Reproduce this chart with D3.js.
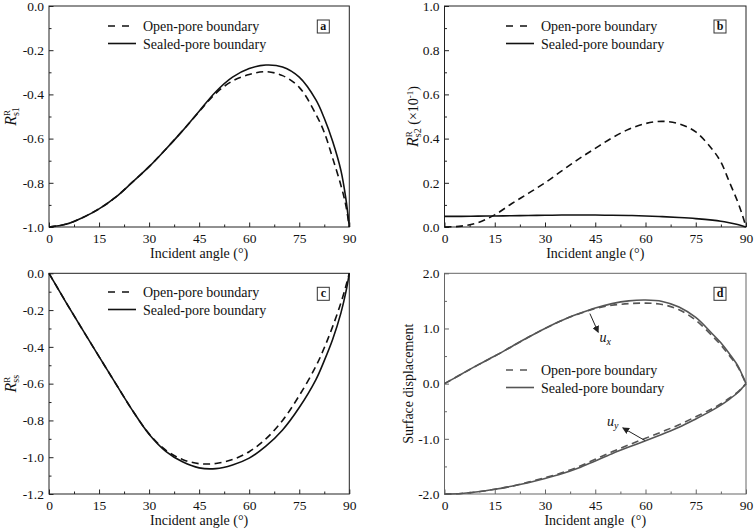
<!DOCTYPE html>
<html>
<head>
<meta charset="utf-8">
<script src="https://cdn.jsdelivr.net/npm/d3@7"></script>
<style>
body { margin: 0; background: #fff; }
svg text { font-family: "Liberation Serif", "Times New Roman", serif; }
</style>
</head>
<body>
<div id="chart"></div>
<script>
// incident angles (deg) shared by every curve
var angles = [0, 5, 10, 15, 20, 25, 30, 35, 40, 45, 50, 55, 60, 65, 70, 75, 80, 82.5, 85, 87.5, 89, 90];

// (a) R_s1
var rs1Open   = [-1.0, -0.988, -0.958, -0.918, -0.865, -0.797, -0.727, -0.648, -0.565, -0.478, -0.395, -0.339, -0.31, -0.297, -0.315, -0.368, -0.49, -0.572, -0.688, -0.812, -0.905, -1.0];
var rs1Sealed = [-1.0, -0.988, -0.958, -0.918, -0.865, -0.797, -0.727, -0.648, -0.565, -0.476, -0.388, -0.322, -0.283, -0.267, -0.276, -0.322, -0.425, -0.508, -0.612, -0.745, -0.875, -1.0];
// (b) R_s2 (x10^-1)
var rs2Open   = [0, 0.004, 0.02, 0.055, 0.105, 0.152, 0.2, 0.254, 0.307, 0.356, 0.403, 0.442, 0.468, 0.478, 0.467, 0.43, 0.35, 0.294, 0.205, 0.115, 0.05, 0];
var rs2Sealed = [0.048, 0.048, 0.049, 0.05, 0.051, 0.052, 0.053, 0.054, 0.054, 0.054, 0.053, 0.052, 0.05, 0.047, 0.043, 0.038, 0.031, 0.026, 0.019, 0.011, 0.005, 0];
// (c) R_ss
var rssOpen   = [0, -0.155, -0.305, -0.453, -0.6, -0.745, -0.873, -0.962, -1.012, -1.035, -1.034, -1.013, -0.97, -0.9, -0.8, -0.665, -0.505, -0.405, -0.29, -0.16, -0.068, 0];
var rssSealed = [0, -0.155, -0.305, -0.453, -0.6, -0.745, -0.875, -0.968, -1.025, -1.058, -1.062, -1.042, -1.005, -0.94, -0.852, -0.73, -0.578, -0.475, -0.36, -0.215, -0.1, 0];
// (d) surface displacement
var uxOpen    = [0, 0.17, 0.34, 0.5, 0.67, 0.84, 1.0, 1.145, 1.262, 1.36, 1.42, 1.45, 1.46, 1.435, 1.34, 1.15, 0.86, 0.7, 0.51, 0.31, 0.13, 0];
var uxSealed  = [0, 0.17, 0.34, 0.5, 0.67, 0.84, 1.0, 1.145, 1.265, 1.37, 1.45, 1.5, 1.515, 1.49, 1.39, 1.2, 0.9, 0.74, 0.545, 0.33, 0.14, 0];
var uyOpen    = [-2.0, -1.99, -1.96, -1.915, -1.86, -1.785, -1.705, -1.615, -1.505, -1.37, -1.235, -1.11, -0.99, -0.87, -0.745, -0.6, -0.45, -0.365, -0.265, -0.155, -0.065, 0];
var uySealed  = [-2.0, -1.99, -1.96, -1.915, -1.86, -1.795, -1.72, -1.635, -1.53, -1.4, -1.27, -1.15, -1.035, -0.915, -0.79, -0.64, -0.48, -0.39, -0.285, -0.165, -0.07, 0];

var xTicks = [0, 15, 30, 45, 60, 75, 90];
var xMinor = [7.5, 22.5, 37.5, 52.5, 67.5, 82.5];
var yTicksA = [-1.0, -0.8, -0.6, -0.4, -0.2, 0.0];
var yTicksB = [0.0, 0.2, 0.4, 0.6, 0.8, 1.0];
var yTicksC = [-1.2, -1.0, -0.8, -0.6, -0.4, -0.2, 0.0];
var yTicksD = [-2.0, -1.0, 0.0, 1.0, 2.0];
var legendNames = ["Open-pore boundary", "Sealed-pore boundary"];
var xTitle = "Incident angle (\u00B0)";

var svg = d3.select("#chart").append("svg")
  .attr("width", 754)
  .attr("height", 530);

var defs = svg.append("defs");
defs.append("marker")
  .attr("id", "arrow")
  .attr("viewBox", "0 0 10 10")
  .attr("refX", 9).attr("refY", 5)
  .attr("markerWidth", 7).attr("markerHeight", 7)
  .attr("markerUnits", "userSpaceOnUse")
  .attr("orient", "auto")
  .append("path")
  .attr("d", "M0,0 L10,5 L0,10 z")
  .attr("fill", "#222");

var fmt = function(v) { return d3.format(".1f")(v).replace("\u2212", "-"); };

var panels = [
  { key: "a", x: 49, y: 6, w: 300.3, h: 221, dom: [-1, 0], ticks: yTicksA, minor: 0.1,
    open: rs1Open, sealed: rs1Sealed, lx: 108, ly: 26, col: "#111", frame: "#222",
    ylab: { x: 16, parts: "s1" } },
  { key: "b", x: 444.5, y: 6, w: 301.5, h: 221, dom: [0, 1], ticks: yTicksB, minor: 0.1,
    open: rs2Open, sealed: rs2Sealed, lx: 506, ly: 26, col: "#111", frame: "#222",
    ylab: { x: 418, parts: "s2", extra: true } },
  { key: "c", x: 49, y: 273.3, w: 300.3, h: 220.7, dom: [-1.2, 0], ticks: yTicksC, minor: 0.1,
    open: rssOpen, sealed: rssSealed, lx: 108, ly: 292, col: "#111", frame: "#222",
    ylab: { x: 16, parts: "ss" } },
  { key: "d", x: 444.5, y: 273.3, w: 301.5, h: 220.7, dom: [-2, 2], ticks: yTicksD, minor: 0.5,
    open: null, sealed: null, lx: 506, ly: 370, col: "#555", frame: "#666",
    ylab: { x: 413, text: "Surface displacement" } }
];

panels.forEach(function(p) {
  var x = d3.scaleLinear().domain([0, 90]).range([0, p.w]);
  var y = d3.scaleLinear().domain(p.dom).range([p.h, 0]);
  var g = svg.append("g").attr("transform", "translate(" + p.x + "," + p.y + ")");

  // minor ticks
  var yMinorVals = d3.range(p.dom[0], p.dom[1] + 1e-9, p.minor)
    .filter(function(v) { return p.ticks.every(function(t) { return Math.abs(t - v) > 1e-6; }); });
  g.append("g").call(d3.axisLeft(y).tickValues(yMinorVals).tickSize(-2.5).tickFormat(""))
    .call(function(s) { s.select(".domain").remove(); s.selectAll("line").attr("stroke", p.frame); });
  g.append("g").attr("transform", "translate(0," + p.h + ")")
    .call(d3.axisBottom(x).tickValues(xMinor).tickSize(-2.5).tickFormat(""))
    .call(function(s) { s.select(".domain").remove(); s.selectAll("line").attr("stroke", p.frame); });

  // major ticks + labels
  g.append("g").call(d3.axisLeft(y).tickValues(p.ticks).tickSize(-4.5).tickPadding(5).tickFormat(fmt))
    .call(function(s) {
      s.select(".domain").remove();
      s.selectAll("line").attr("stroke", p.frame);
      s.selectAll("text").attr("font-size", 13.5).attr("fill", "#111");
    });
  g.append("g").attr("transform", "translate(0," + p.h + ")")
    .call(d3.axisBottom(x).tickValues(xTicks).tickSize(-4.5).tickPadding(6))
    .call(function(s) {
      s.select(".domain").remove();
      s.selectAll("line").attr("stroke", p.frame);
      s.selectAll("text").attr("font-size", 13.5).attr("fill", "#111");
    });

  // frame
  g.append("rect").attr("width", p.w).attr("height", p.h)
    .attr("fill", "none").attr("stroke", p.frame).attr("stroke-width", 1);

  // x title
  g.append("text").attr("x", p.w / 2).attr("y", p.h + 31)
    .attr("text-anchor", "middle").attr("font-size", 14).attr("fill", "#111")
    .text(p.key === "d" ? "Incident angle\u00A0\u00A0(\u00B0)" : xTitle);

  // y title
  var cy = p.y + p.h / 2;
  var yl = svg.append("text")
    .attr("x", p.ylab.x).attr("y", cy)
    .attr("transform", "rotate(-90," + p.ylab.x + "," + cy + ")")
    .attr("text-anchor", "middle").attr("fill", "#111");
  if (p.ylab.text) {
    yl.attr("font-size", 14).text(p.ylab.text);
  } else {
    yl.append("tspan").attr("font-size", 16).attr("font-style", "italic").text("R");
    yl.append("tspan").attr("font-size", 9).attr("dy", -6).text("R");
    yl.append("tspan").attr("font-size", 10).attr("dx", -6).attr("dy", 9).text(p.ylab.parts);
    if (p.ylab.extra) {
      yl.append("tspan").attr("font-size", 14).attr("dy", -3).text("\u00A0(\u00D710");
      yl.append("tspan").attr("font-size", 9).attr("dy", -5).text("-1");
      yl.append("tspan").attr("font-size", 14).attr("dy", 5).text(")");
    }
  }

  // curves
  var line = d3.line()
    .x(function(d) { return x(d[0]); })
    .y(function(d) { return y(d[1]); })
    .curve(d3.curveCatmullRom.alpha(0.5));

  var curves = [];
  if (p.key === "d") {
    curves = [[uxOpen, true], [uxSealed, false], [uyOpen, true], [uySealed, false]];
  } else {
    curves = [[p.open, true], [p.sealed, false]];
  }
  curves.forEach(function(c) {
    g.append("path")
      .datum(d3.zip(angles, c[0]))
      .attr("d", line)
      .attr("fill", "none")
      .attr("stroke", p.col)
      .attr("stroke-width", 1.6)
      .attr("stroke-dasharray", c[1] ? "7,4.5" : null);
  });

  // legend
  legendNames.forEach(function(name, i) {
    var ly = p.ly + i * 17.5;
    svg.append("line")
      .attr("x1", p.lx).attr("x2", p.lx + (i === 0 ? 21 : 28))
      .attr("y1", ly).attr("y2", ly)
      .attr("stroke", p.col).attr("stroke-width", 1.6)
      .attr("stroke-dasharray", i === 0 ? "7,7" : null);
    svg.append("text")
      .attr("x", p.lx + 35).attr("y", ly + 5)
      .attr("font-size", 14).attr("fill", "#111")
      .text(name);
  });

  // panel letter
  var bx = p.x + p.w - 32, by = p.y + 14;
  svg.append("rect").attr("x", bx).attr("y", by).attr("width", 12).attr("height", 13)
    .attr("fill", "#fff").attr("stroke", "#333").attr("stroke-width", 1);
  svg.append("text").attr("x", bx + 6).attr("y", by + 10)
    .attr("text-anchor", "middle").attr("font-size", 12).attr("font-weight", "bold")
    .attr("fill", "#111").text(p.key);

  // annotations on panel d
  if (p.key === "d") {
    g.append("line")
      .attr("x1", x(43.4)).attr("y1", y(1.27))
      .attr("x2", x(45.9)).attr("y2", y(0.93))
      .attr("stroke", "#222").attr("stroke-width", 1)
      .attr("marker-end", "url(#arrow)");
    var tx = g.append("text").attr("x", x(46.3)).attr("y", y(0.76))
      .attr("font-size", 14).attr("font-style", "italic").attr("fill", "#111");
    tx.append("tspan").text("u");
    tx.append("tspan").attr("font-size", 10).attr("dy", 3).text("x");

    g.append("line")
      .attr("x1", x(59.8)).attr("y1", y(-1.03))
      .attr("x2", x(53.2)).attr("y2", y(-0.8))
      .attr("stroke", "#222").attr("stroke-width", 1)
      .attr("marker-end", "url(#arrow)");
    var ty = g.append("text").attr("x", x(48.5)).attr("y", y(-0.77))
      .attr("font-size", 14).attr("font-style", "italic").attr("fill", "#111");
    ty.append("tspan").text("u");
    ty.append("tspan").attr("font-size", 10).attr("dy", 3).text("y");
  }
});
</script>
</body>
</html>
